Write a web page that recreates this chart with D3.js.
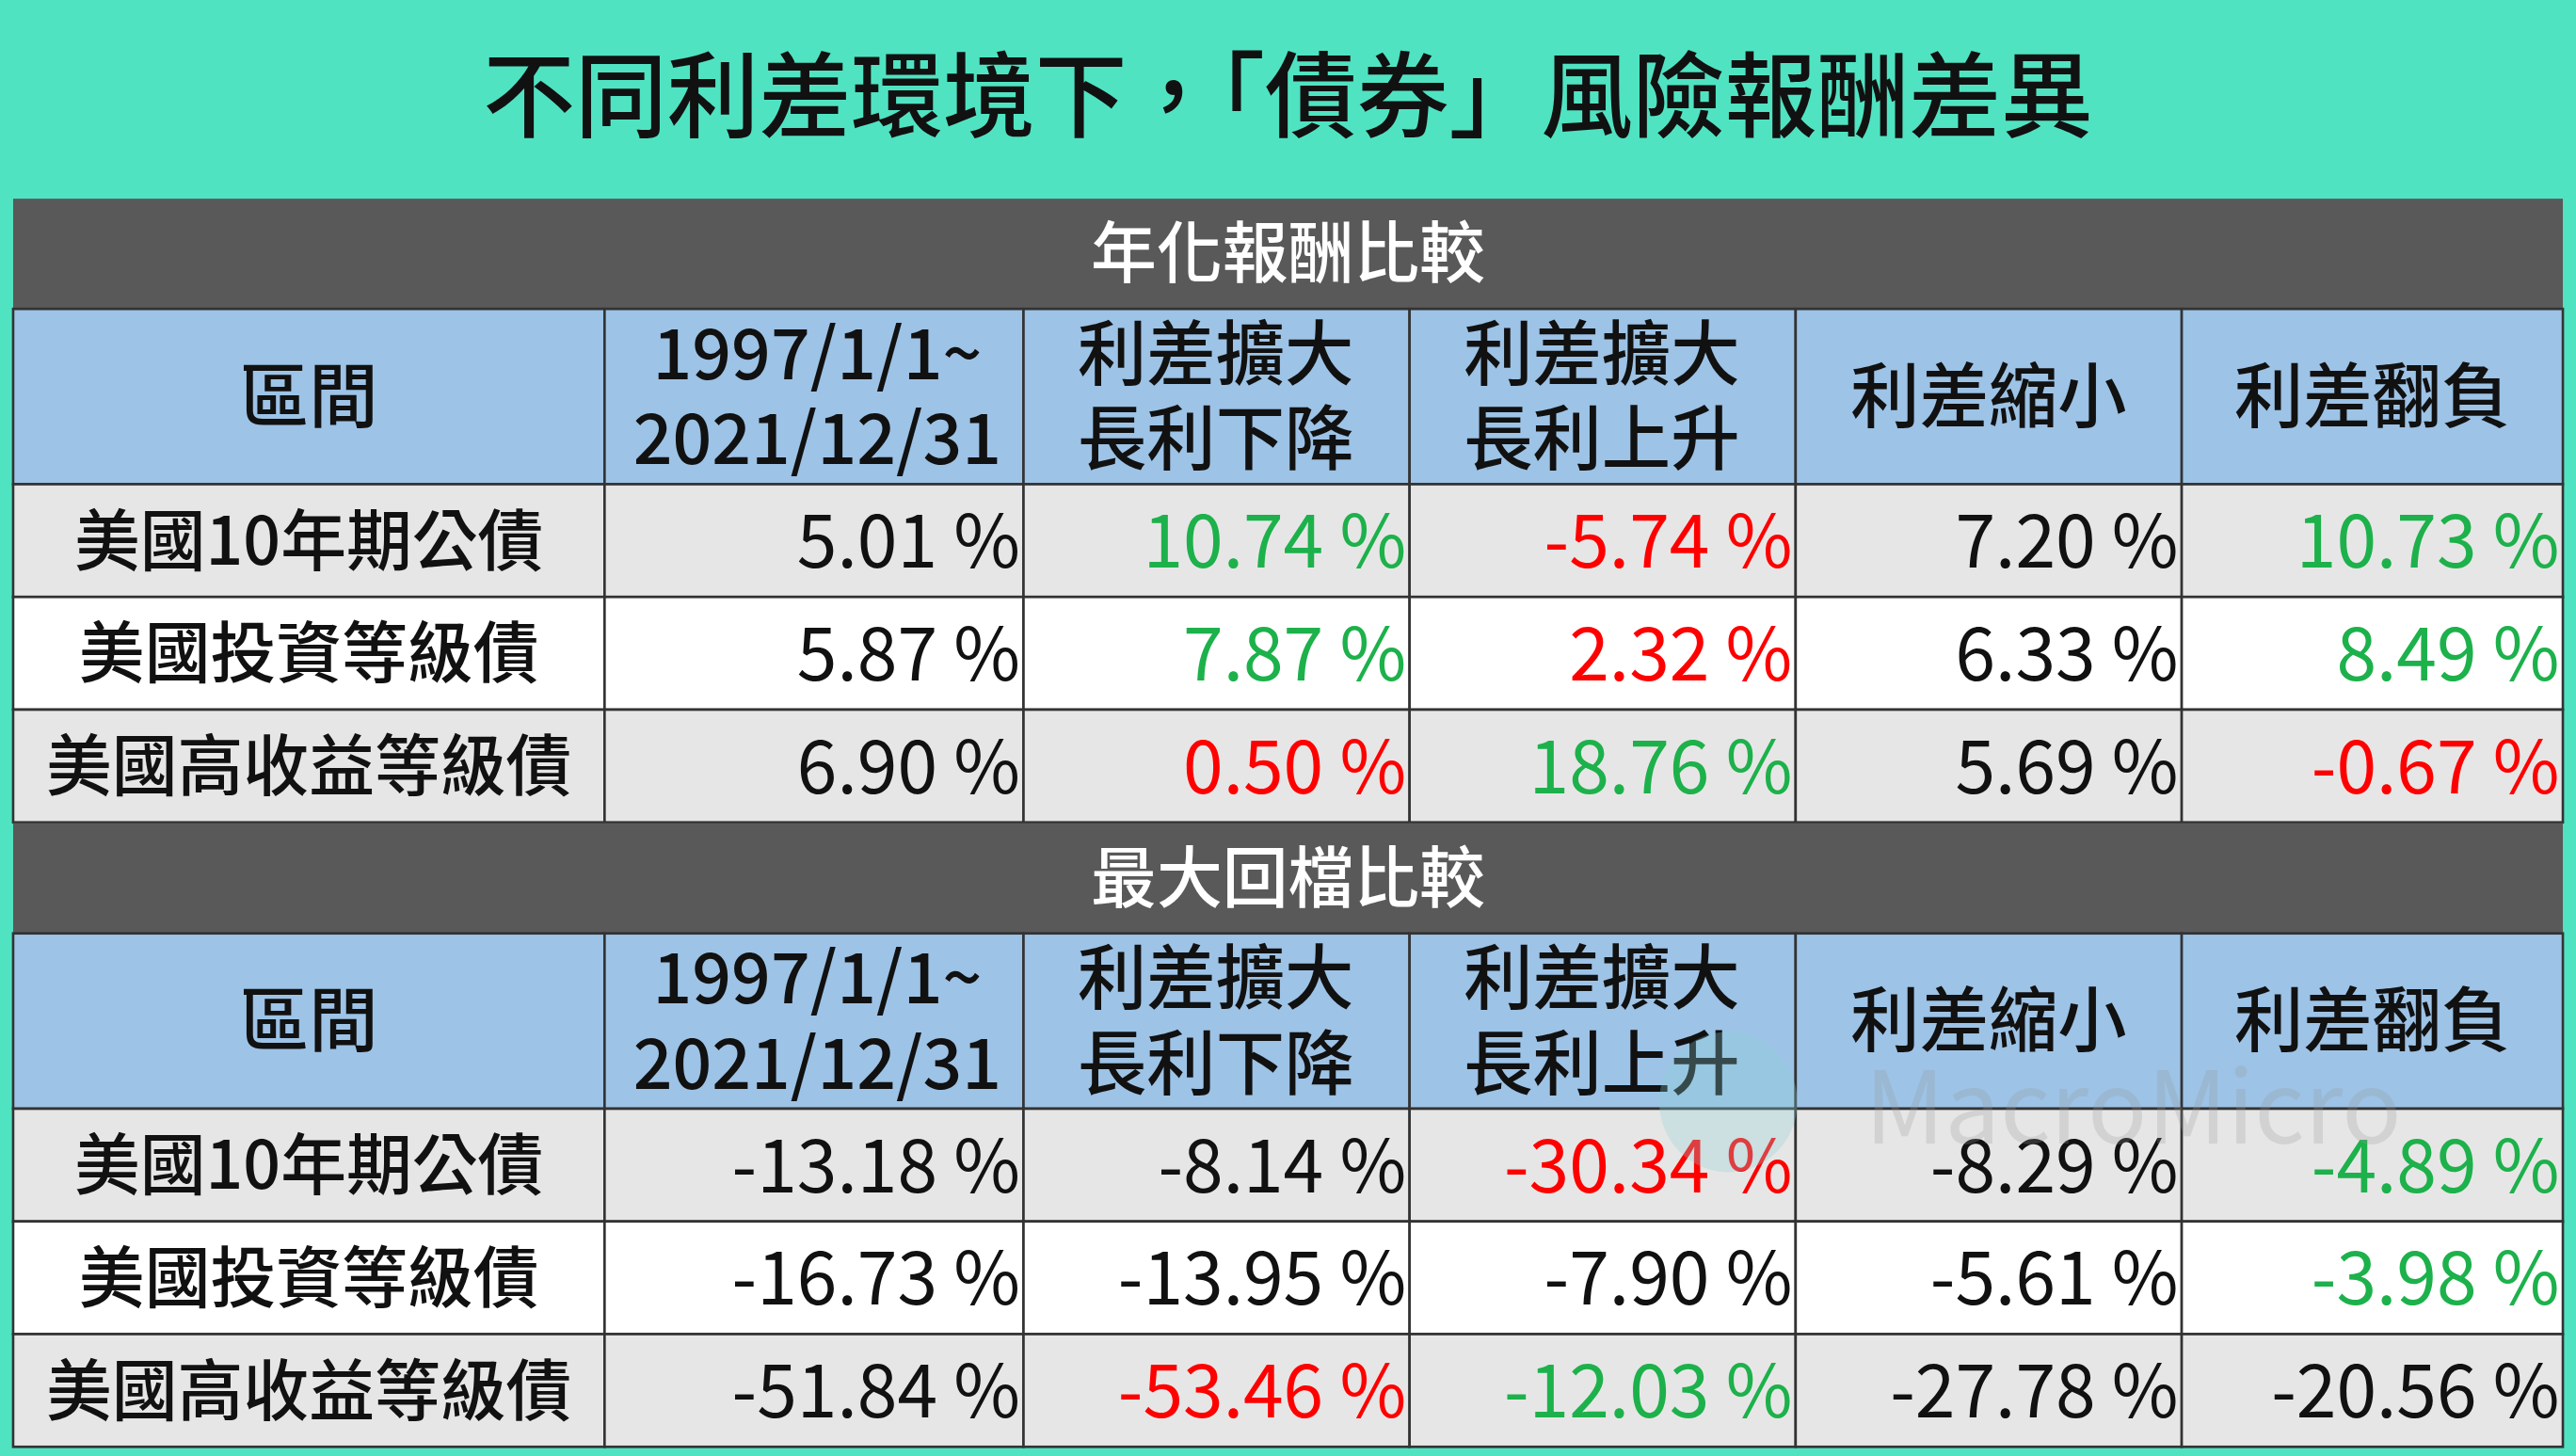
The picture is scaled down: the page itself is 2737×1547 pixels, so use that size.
<!DOCTYPE html>
<html><head><meta charset="utf-8">
<script src="https://cdn.jsdelivr.net/npm/d3@7"></script>
<style>
html,body{margin:0;padding:0;background:#50e3c2;overflow:hidden}
svg{display:block}
</style></head>
<body><svg id="chart"></svg>
<script>
// data
const title = '不同利差環境下，「債券」風險報酬差異';
const sections = ['年化報酬比較', '最大回檔比較'];
const headers = [['區間'], ['1997/1/1~', '2021/12/31'], ['利差擴大', '長利下降'], ['利差擴大', '長利上升'], ['利差縮小'], ['利差翻負']];
const bonds = ['美國10年期公債', '美國投資等級債', '美國高收益等級債'];
const annualReturn = [
  [5.01, 10.74, -5.74, 7.20, 10.73],
  [5.87, 7.87, 2.32, 6.33, 8.49],
  [6.90, 0.50, 18.76, 5.69, -0.67]
];
const annualColor = [
  ['', 'g', 'r', '', 'g'],
  ['', 'g', 'r', '', 'g'],
  ['', 'r', 'g', '', 'r']
];
const maxDrawdown = [
  [-13.18, -8.14, -30.34, -8.29, -4.89],
  [-16.73, -13.95, -7.90, -5.61, -3.98],
  [-51.84, -53.46, -12.03, -27.78, -20.56]
];
const drawdownColor = [
  ['', '', 'r', '', 'g'],
  ['', '', '', '', 'g'],
  ['', 'r', 'g', '', '']
];

const W = 1568, H = 872;
const svg = d3.select('#chart').attr('width', 2737).attr('height', 1547)
  .attr('viewBox', `0 0 ${W} ${H}`).attr('preserveAspectRatio', 'none');
const font = "'Noto Sans CJK TC','Noto Sans',sans-serif";
const colorOf = { '': '#111', g: '#1db14b', r: '#ff0000' };
const fmt = v => d3.format('.2f')(v).replace('\u2212', '-') + ' %';

const edges = [8, 368, 623, 858, 1093, 1328, 1560];

svg.append('rect').attr('width', W).attr('height', H).attr('fill', '#50e3c2');
svg.append('text').attr('x', 784).attr('y', 78).attr('text-anchor', 'middle')
  .attr('font-family', font).attr('font-weight', 500).attr('font-size', 56)
  .attr('fill', '#111').text(title);

const blocks = [
  { top: 119, values: annualReturn, colors: annualColor },
  { top: 493, values: maxDrawdown, colors: drawdownColor }
];

blocks.forEach((b, bi) => {
  const g = svg.append('g');
  const secH = 66, headH = 105, rowH = 67.5;
  g.append('rect').attr('x', edges[0]).attr('y', b.top).attr('width', edges[6] - edges[0])
    .attr('height', secH).attr('fill', '#595959');
  g.append('text').attr('x', 784).attr('y', b.top + 47).attr('text-anchor', 'middle')
    .attr('font-family', font).attr('font-weight', 500).attr('font-size', 40)
    .attr('fill', '#fff').text(sections[bi]);

  const hy = b.top + secH;
  headers.forEach((h, i) => {
    const x0 = edges[i], x1 = edges[i + 1];
    g.append('rect').attr('x', x0).attr('y', hy).attr('width', x1 - x0).attr('height', headH)
      .attr('fill', '#9dc3e6').attr('stroke', '#333').attr('stroke-width', 1.5);
    if (h.length === 1) {
      g.append('text').attr('font-family', font).attr('font-size', 42).attr('fill', '#111')
        .attr('font-weight', 500)
        .attr('x', (x0 + x1) / 2).attr('y', hy + headH / 2 + 15).attr('text-anchor', 'middle').text(h[0]);
    } else {
      h.forEach((line, k) => {
        g.append('text').attr('font-family', font).attr('font-size', 42).attr('fill', '#111')
          .attr('font-weight', 500)
          .attr('x', i === 1 ? (x0 + x1) / 2 + 2 : x0 + 33).attr('y', hy + 42 + k * 51)
          .attr('text-anchor', i === 1 ? 'middle' : 'start').text(line);
      });
    }
  });

  const y = d3.scaleBand().domain(d3.range(bonds.length)).range([hy + headH, hy + headH + rowH * 3]);
  bonds.forEach((name, r) => {
    const ry = y(r);
    edges.slice(0, -1).forEach((x0, c) => {
      g.append('rect').attr('x', x0).attr('y', ry).attr('width', edges[c + 1] - x0)
        .attr('height', y.bandwidth()).attr('fill', r === 1 ? '#ffffff' : '#e7e6e6')
        .attr('stroke', '#333').attr('stroke-width', 1.5);
    });
    g.append('text').attr('x', (edges[0] + edges[1]) / 2).attr('y', ry + 48)
      .attr('text-anchor', 'middle').attr('font-family', font).attr('font-size', 40)
      .attr('font-weight', 500).attr('fill', '#111').text(name);
    b.values[r].forEach((v, c) => {
      g.append('text').attr('x', edges[c + 2] - 2).attr('y', ry + 50)
        .attr('text-anchor', 'end').attr('font-family', font).attr('font-size', 44)
        .attr('fill', colorOf[b.colors[r][c]]).text(fmt(v));
    });
  });
});

// watermark
svg.append('circle').attr('cx', 1052).attr('cy', 660).attr('r', 42).attr('fill', '#8ecfd6').attr('opacity', 0.3);
svg.append('text').attr('x', 1135).attr('y', 685).attr('font-family', font).attr('font-size', 60)
  .attr('fill', '#999').attr('opacity', 0.25).text('MacroMicro');
</script></body></html>
